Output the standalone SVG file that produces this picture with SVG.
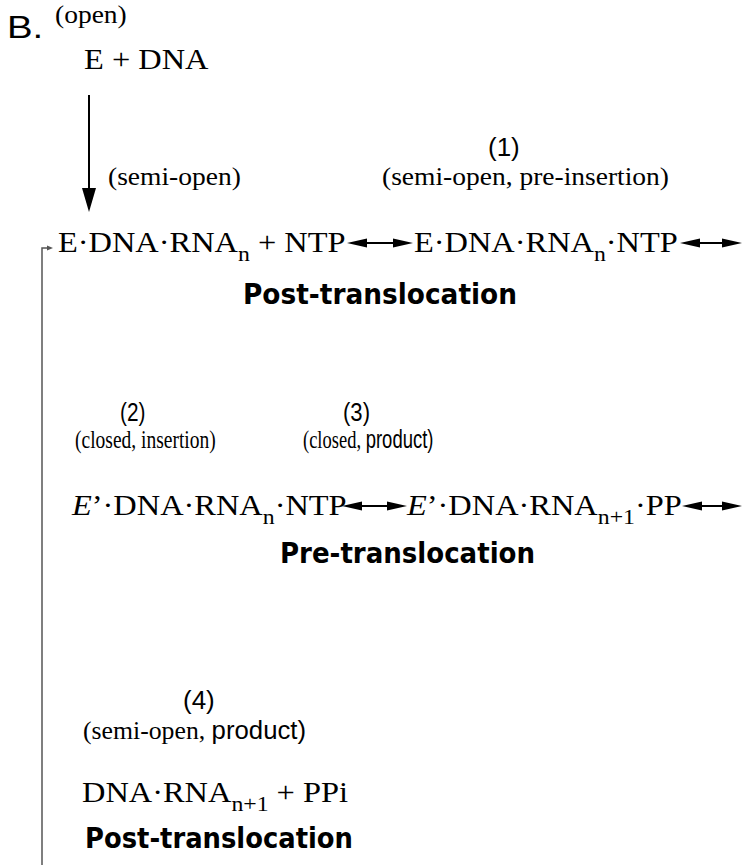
<svg xmlns="http://www.w3.org/2000/svg" width="743" height="865" viewBox="0 0 743 865">
<style>
.t{font-family:"Liberation Serif","Times New Roman",serif;fill:#000}
.a{font-family:"Liberation Sans",Arial,sans-serif;fill:#000}
.big{font-size:30px}
.lab{font-size:25px}
.num{font-size:26px}
.sub{font-size:22px}
.c{font-family:"DejaVu Sans","Verdana",sans-serif;font-weight:bold;font-size:28px;fill:#000}
.ln{stroke:#000;stroke-width:2;fill:none}
.loop{stroke:#555;stroke-width:1.5;fill:none}
</style>
<defs>
<marker id="hd" markerUnits="userSpaceOnUse" markerWidth="20" markerHeight="10" refX="10" refY="4.5" orient="auto-start-reverse" viewBox="0 0 20 9">
<path d="M0,0 L20,4.5 L0,9 Z" fill="#000"/>
</marker>
<marker id="hv" markerUnits="userSpaceOnUse" markerWidth="24" markerHeight="15" refX="12" refY="7" orient="auto" viewBox="0 0 24 14">
<path d="M0,0 L24,7 L0,14 Z" fill="#000"/>
</marker>
<marker id="hs" markerUnits="userSpaceOnUse" markerWidth="6" markerHeight="6" refX="3" refY="2.5" orient="auto" viewBox="0 0 6 5">
<path d="M0,0 L6,2.5 L0,5 Z" fill="#555"/>
</marker>
</defs>

<text class="a" font-size="32" transform="translate(7 38) scale(1.2 1)">B.</text>

<g id="start">
<text class="t lab" transform="translate(55 23) scale(1.1 1)">(open)</text>
<text class="t big" transform="translate(84 69) scale(1.08 1)">E + DNA</text>
</g>

<g id="post1">
<text class="t lab" transform="translate(108 185) scale(1.1 1)">(semi-open)</text>
<text class="t big" transform="translate(58 252) scale(1.08 1)">E·DNA·RNA<tspan class="sub" dy="9">n</tspan><tspan dy="-9"> + NTP</tspan></text>
<text class="c" x="243" y="304" textLength="274" lengthAdjust="spacingAndGlyphs">Post-translocation</text>
</g>

<g id="state1">
<text class="a num" transform="translate(488 156) scale(1.0 1)">(1)</text>
<text class="t lab" transform="translate(382 185) scale(1.1 1)">(semi-open, pre-insertion)</text>
<text class="t big" transform="translate(414 252) scale(1.08 1)">E·DNA·RNA<tspan class="sub" dy="9">n</tspan><tspan dy="-9">·NTP</tspan></text>
</g>

<g id="state2">
<text class="a num" transform="translate(120 421) scale(0.8 1)">(2)</text>
<text class="t lab" transform="translate(75 448) scale(0.78 1)">(closed, insertion)</text>
<text class="t big" transform="translate(72 515) scale(1.08 1)"><tspan font-style="italic">E</tspan>’·DNA·RNA<tspan class="sub" dy="9">n</tspan><tspan dy="-9">·NTP</tspan></text>
</g>

<g id="state3">
<text class="a num" transform="translate(343 421) scale(0.85 1)">(3)</text>
<text class="t lab" transform="translate(303 448) scale(0.74 1)">(closed, <tspan class="a">product)</tspan></text>
<text class="t big" transform="translate(407 515) scale(1.08 1)"><tspan font-style="italic">E</tspan>’·DNA·RNA<tspan class="sub" dy="9">n+1</tspan><tspan dy="-9">·PP</tspan></text>
</g>

<text class="c" x="280" y="563" textLength="255" lengthAdjust="spacingAndGlyphs">Pre-translocation</text>

<g id="state4">
<text class="a num" transform="translate(183 709) scale(1.0 1)">(4)</text>
<text class="t lab" transform="translate(83 739) scale(1.03 1)">(semi-open, <tspan class="a">product)</tspan></text>
<text class="t big" transform="translate(82 802) scale(1.08 1)">DNA·RNA<tspan class="sub" dy="9">n+1</tspan><tspan dy="-9"> + PPi</tspan></text>
<text class="c" x="85" y="848" textLength="268" lengthAdjust="spacingAndGlyphs">Post-translocation</text>
</g>

<g id="connectors">
<line class="ln" x1="89" y1="95" x2="89" y2="200" marker-end="url(#hv)"/>
<line class="ln" x1="357" y1="243" x2="403" y2="243" marker-start="url(#hd)" marker-end="url(#hd)"/>
<line class="ln" x1="690" y1="243" x2="732" y2="243" marker-start="url(#hd)" marker-end="url(#hd)"/>
<line class="ln" x1="352" y1="506" x2="397" y2="506" marker-start="url(#hd)" marker-end="url(#hd)"/>
<line class="ln" x1="692" y1="506" x2="732" y2="506" marker-start="url(#hd)" marker-end="url(#hd)"/>
<path class="loop" d="M42,865 V248 H50" marker-end="url(#hs)"/>
</g>
</svg>
